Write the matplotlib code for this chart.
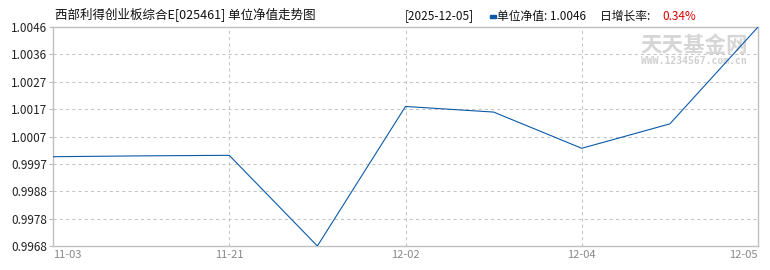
import numpy as np
import matplotlib
matplotlib.use("Agg")
import matplotlib.pyplot as plt

plt.rcParams['font.family'] = ['Noto Sans CJK SC', 'DejaVu Sans']

# data
nav = [0.99998, 1.00001, 1.00003, 0.99680, 1.00177, 1.00157, 1.00028, 1.00115, 1.00460]
tick_idx = [0, 2, 4, 6, 8]
tick_lab = ["11-03", "11-21", "12-02", "12-04", "12-05"]
ytick_vals = np.linspace(0.9968, 1.0046, 9)
ytick_lab = ["0.9968", "0.9978", "0.9988", "0.9997", "1.0007", "1.0017", "1.0027", "1.0036", "1.0046"]

title = "西部利得创业板综合E[025461] 单位净值走势图"
date_str = "[2025-12-05]"
nav_str = "单位净值: 1.0046"
growth_lbl = "日增长率: "
growth_str = "0.34%"

W, H = 770, 270
fig = plt.figure(figsize=(W / 100, H / 100), dpi=100)
ax = fig.add_axes([53 / W, 1 - 246 / H, (758 - 53) / W, (246 - 27) / H])

x = np.arange(len(nav))
ax.plot(x, nav, color='#0a5aa8', lw=0.8, zorder=3)
ax.set_xlim(0, len(nav) - 1)
ax.set_ylim(ytick_vals[0], ytick_vals[-1])

for v in ytick_vals[1:-1]:
    ax.axhline(v, color='#c4c4c4', ls=(0, (3, 3)), lw=0.75, zorder=1)
for i in tick_idx[1:-1]:
    ax.axvline(i, color='#c4c4c4', ls=(0, (3, 3)), lw=0.75, zorder=1)

ax.set_yticks(ytick_vals)
ax.set_yticklabels(ytick_lab, fontsize=8.5, color='#222222')
ax.set_xticks(tick_idx)
ax.set_xticklabels(tick_lab, fontsize=8, color='#888888')
for lab, ha in zip(ax.get_xticklabels(), ['left', 'center', 'center', 'center', 'right']):
    lab.set_ha(ha)
ax.tick_params(axis='y', length=3, width=0.8, color='#bbbbbb', pad=1)
ax.tick_params(axis='x', length=0, pad=3)
for s in ax.spines.values():
    s.set_color('#c0c0c0')
    s.set_linewidth(1)

def px(xp, yp):
    return xp / W, 1 - yp / H

# watermark, under the line
ax.text(*px(694, 45), "天天基金网", transform=fig.transFigure, fontsize=15.5, color='#d6d6d6',
        ha='center', va='center', fontweight='bold', zorder=0)
ax.text(*px(694, 61), "WWW.1234567.com.cn", transform=fig.transFigure, fontsize=7, color='#d0d0d0',
        ha='center', va='center', family='DejaVu Sans Mono', fontweight='bold', zorder=0)

fig.text(*px(55, 15), title, fontsize=9, va='center', ha='left', color='#111111')
fig.text(*px(405, 16), date_str, fontsize=8.5, va='center', ha='left', color='#111111')
fig.patches.append(plt.Rectangle(px(490, 18), 6 / W, 3 / H, transform=fig.transFigure,
                                 color='#0a5aa8', figure=fig))
fig.text(*px(497, 16), nav_str, fontsize=8.5, va='center', ha='left', color='#111111')
fig.text(*px(600, 16), growth_lbl, fontsize=8.5, va='center', ha='left', color='#111111')
fig.text(*px(662, 16), growth_str, fontsize=8.5, va='center', ha='left', color='#dd0000')

fig.savefig("out.png", dpi=100)
